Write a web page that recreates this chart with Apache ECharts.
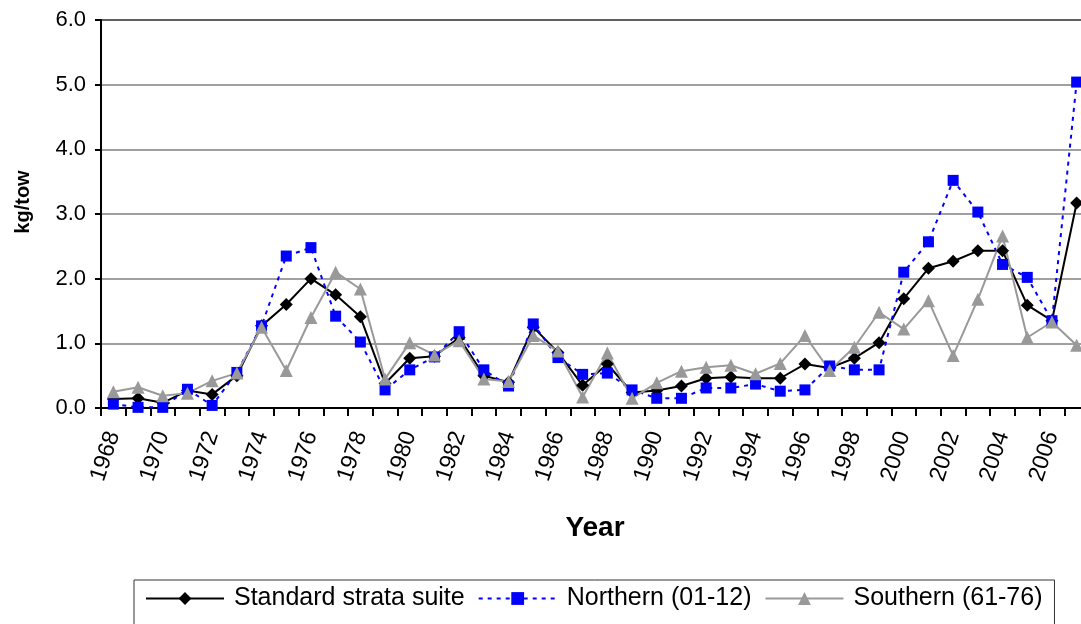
<!DOCTYPE html>
<html>
<head>
<meta charset="utf-8">
<script src="https://cdn.jsdelivr.net/npm/echarts@6/dist/echarts.min.js"></script>
<style>
html,body{margin:0;padding:0;background:#fff;}
#c{width:1081px;height:624px;}
</style>
</head>
<body>
<div id="c"></div>
<script>
const years = ['1968','1969','1970','1971','1972','1973','1974','1975','1976','1977','1978','1979','1980','1981','1982','1983','1984','1985','1986','1987','1988','1989','1990','1991','1992','1993','1994','1995','1996','1997','1998','1999','2000','2001','2002','2003','2004','2005','2006','2007'];
const standard = [0.14,0.15,0.08,0.27,0.21,0.50,1.27,1.60,2.00,1.75,1.41,0.38,0.77,0.80,1.09,0.50,0.40,1.25,0.86,0.35,0.68,0.24,0.27,0.34,0.46,0.48,0.46,0.46,0.68,0.62,0.77,1.01,1.69,2.16,2.27,2.43,2.43,1.59,1.35,3.17];
const northern = [0.06,0.01,0.01,0.29,0.04,0.55,1.27,2.35,2.48,1.42,1.02,0.28,0.59,0.79,1.18,0.59,0.34,1.30,0.78,0.52,0.54,0.28,0.15,0.15,0.31,0.31,0.37,0.26,0.28,0.65,0.59,0.59,2.10,2.57,3.52,3.03,2.22,2.02,1.35,5.04];
const southern = [0.25,0.32,0.19,0.23,0.42,0.54,1.25,0.58,1.40,2.10,1.84,0.45,1.01,0.82,1.04,0.45,0.41,1.12,0.88,0.17,0.85,0.15,0.39,0.57,0.63,0.66,0.53,0.69,1.12,0.58,0.94,1.48,1.22,1.66,0.81,1.68,2.66,1.09,1.33,0.97];
const yTicks = ['0.0','1.0','2.0','3.0','4.0','5.0','6.0'];

const FONT = '"Liberation Sans", Arial, sans-serif';
const chart = echarts.init(document.getElementById('c'), null, {renderer:'canvas'});
chart.setOption({
  animation:false,
  backgroundColor:'#fff',
  textStyle:{fontFamily:FONT},
  grid:{left:101, width:988, top:20, height:388, outerBoundsMode:'none', containLabel:false,
        show:true, borderColor:'#000', borderWidth:2, backgroundColor:'transparent'},
  legend:{
    left:134, top:580,
    padding:[6,12,24,11],
    borderColor:'#333', borderWidth:1,
    itemWidth:78, itemHeight:16, itemGap:13,
    textStyle:{fontFamily:FONT, fontSize:25, color:'#000', padding:[0,0,0,5]},
    data:['Standard strata suite','Northern (01-12)','Southern (61-76)']
  },
  xAxis:{
    type:'category', data:years, boundaryGap:true,
    name:'Year', nameLocation:'middle', nameGap:106,
    nameTextStyle:{fontFamily:FONT, fontSize:28, fontWeight:'bold', color:'#000'},
    axisLine:{lineStyle:{color:'#000', width:2}},
    axisTick:{show:true, interval:0, length:8, lineStyle:{color:'#000', width:2}},
    axisLabel:{interval:1, rotate:72, margin:24, fontFamily:FONT, fontSize:23, color:'#000'},
    splitLine:{show:false}
  },
  yAxis:{
    type:'value', min:0, max:6, interval:1,
    name:'kg/tow', nameLocation:'middle', nameGap:68,
    nameTextStyle:{fontFamily:FONT, fontSize:20, fontWeight:'bold', color:'#000', padding:[0,0,0,24]},
    axisLine:{show:true, lineStyle:{color:'#000', width:2}},
    axisTick:{show:true, length:6, lineStyle:{color:'#000', width:2}},
    axisLabel:{margin:15, fontFamily:FONT, fontSize:22, color:'#000', formatter:function(v){return yTicks[Math.round(v)];}},
    splitLine:{show:true, lineStyle:{color:'#808080', width:1.5}}
  },
  series:[
    {name:'Standard strata suite', type:'line', data:standard, symbol:'diamond', symbolSize:13, showAllSymbol:true,
     itemStyle:{color:'#000'}, lineStyle:{color:'#000', width:2}},
    {name:'Northern (01-12)', type:'line', data:northern, symbol:'rect', symbolSize:11, showAllSymbol:true,
     itemStyle:{color:'#0000ff'}, lineStyle:{color:'#0000ff', width:2, type:[4,5]}},
    {name:'Southern (61-76)', type:'line', data:southern, symbol:'triangle', symbolSize:13, showAllSymbol:true,
     itemStyle:{color:'#999999'}, lineStyle:{color:'#999999', width:2}}
  ]
});
</script>
</body>
</html>
